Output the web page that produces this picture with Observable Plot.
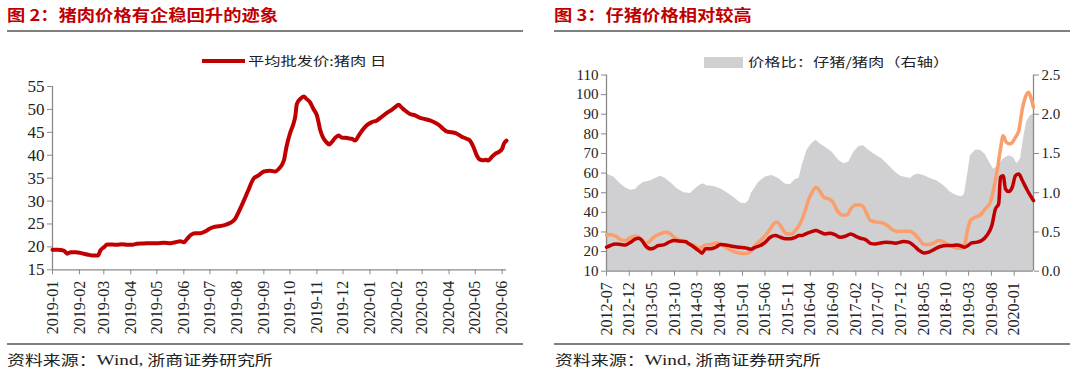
<!DOCTYPE html>
<html><head><meta charset="utf-8">
<script src="https://cdn.jsdelivr.net/npm/d3@7"></script>
<script src="https://cdn.jsdelivr.net/npm/@observablehq/plot@0.6"></script>
<style>
body{margin:0;background:#fff;}
#page{position:relative;width:1080px;height:372px;overflow:hidden;font-family:"Noto Sans CJK SC",sans-serif;}
.title{position:absolute;top:4px;font-weight:bold;font-size:15.5px;color:#c00000;transform:scaleX(1.18);transform-origin:0 0;white-space:nowrap;line-height:20px;}
.rule{position:absolute;height:2px;background:#808080;}
.src{position:absolute;top:350px;font-size:14px;color:#222;transform:scaleX(1.28);transform-origin:0 0;white-space:nowrap;line-height:18px;}
.src .lat{font-family:"Liberation Serif",serif;font-size:15px;}
.chart{position:absolute;top:60px;}
.legtxt{position:absolute;font-size:12.5px;color:#222;transform:scaleX(1.3);transform-origin:0 0;white-space:nowrap;line-height:16px;}
</style></head>
<body><div id="page">
<div class="title" style="left:7px">图 2：猪肉价格有企稳回升的迹象</div>
<div class="title" style="left:554px">图 3：仔猪价格相对较高</div>
<div class="rule" style="left:7px;width:516px;top:30px"></div>
<div class="rule" style="left:554px;width:516px;top:30px"></div>
<div id="c1" class="chart" style="left:0px"></div>
<div id="c2" class="chart" style="left:540px"></div>
<div style="position:absolute;left:202px;top:59px;width:43px;height:4px;background:#c00000"></div>
<div class="legtxt" style="left:248px;top:53px">平均批发价:猪肉 日</div>
<div style="position:absolute;left:704px;top:57px;width:39px;height:11px;background:#d0cfd1"></div>
<div class="legtxt" style="left:748px;top:54px">价格比：仔猪/猪肉（右轴）</div>
<div class="rule" style="left:7px;width:516px;top:343px"></div>
<div class="rule" style="left:554px;width:516px;top:343px"></div>
<div class="src" style="left:7px">资料来源：<span class="lat">Wind,</span> 浙商证券研究所</div>
<div class="src" style="left:555px">资料来源：<span class="lat">Wind,</span> 浙商证券研究所</div>
</div>
<script>
// ---------- Figure 2: pork average wholesale price (daily) ----------
const leftDates = ["2019-01-01","2019-01-07","2019-01-14","2019-01-16","2019-01-18","2019-01-22","2019-01-28","2019-02-02","2019-02-06","2019-02-10","2019-02-16","2019-02-22","2019-02-23","2019-02-25","2019-03-01","2019-03-05","2019-03-11","2019-03-16","2019-03-22","2019-03-28","2019-04-03","2019-04-08","2019-04-16","2019-04-24","2019-05-01","2019-05-09","2019-05-17","2019-05-22","2019-05-28","2019-06-01","2019-06-05","2019-06-09","2019-06-14","2019-06-20","2019-06-26","2019-06-30","2019-07-05","2019-07-11","2019-07-17","2019-07-24","2019-07-30","2019-08-03","2019-08-09","2019-08-14","2019-08-20","2019-08-26","2019-09-01","2019-09-08","2019-09-14","2019-09-18","2019-09-24","2019-09-27","2019-10-01","2019-10-05","2019-10-07","2019-10-09","2019-10-13","2019-10-17","2019-10-20","2019-10-24","2019-10-28","2019-11-01","2019-11-05","2019-11-08","2019-11-12","2019-11-15","2019-11-18","2019-11-22","2019-11-26","2019-11-30","2019-12-03","2019-12-07","2019-12-11","2019-12-15","2019-12-19","2019-12-23","2019-12-28","2020-01-03","2020-01-09","2020-01-14","2020-01-20","2020-01-26","2020-01-30","2020-02-03","2020-02-06","2020-02-10","2020-02-16","2020-02-22","2020-02-27","2020-03-04","2020-03-10","2020-03-16","2020-03-21","2020-03-25","2020-03-29","2020-04-04","2020-04-10","2020-04-15","2020-04-21","2020-04-25","2020-04-29","2020-05-03","2020-05-06","2020-05-10","2020-05-14","2020-05-16","2020-05-20","2020-05-24","2020-05-28","2020-06-01","2020-06-03","2020-06-06"];
const leftPrice = [19.4,19.4,19.2,18.85,18.5,18.85,18.85,18.7,18.5,18.35,18.1,18.1,18.3,19.2,19.9,20.5,20.5,20.45,20.6,20.45,20.45,20.7,20.75,20.8,20.8,20.9,20.8,21.0,21.25,21.0,21.8,22.6,23.0,23.0,23.4,23.9,24.3,24.5,24.7,25.2,26.1,27.6,30.1,32.3,34.85,35.6,36.45,36.6,36.45,37.0,38.85,41.8,44.7,46.85,48.3,51.2,52.3,52.8,52.3,51.6,50.1,48.7,45.4,43.9,42.85,42.35,42.85,43.8,44.3,43.8,43.8,43.7,43.6,43.2,44.3,45.4,46.5,47.2,47.6,48.3,49.2,49.9,50.5,51.0,50.5,49.8,49.0,48.7,48.2,47.9,47.6,47.1,46.5,45.8,45.2,45.0,44.7,44.1,43.6,43.2,41.8,39.9,39.1,38.9,39.0,38.85,39.6,40.3,40.7,41.4,42.5,43.2];
const leftYTicks = [15,20,25,30,35,40,45,50,55];
const leftXTicks = ["2019-01","2019-02","2019-03","2019-04","2019-05","2019-06","2019-07","2019-08","2019-09","2019-10","2019-11","2019-12","2020-01","2020-02","2020-03","2020-04","2020-05","2020-06"];

// ---------- Figure 3: piglet vs hog prices, ratio on right axis ----------
const ratioDates = ["2012-07-01","2012-08-19","2012-10-04","2012-11-07","2012-12-10","2013-01-13","2013-02-04","2013-03-07","2013-04-22","2013-05-25","2013-06-28","2013-08-01","2013-09-04","2013-10-19","2013-12-04","2014-01-16","2014-02-19","2014-03-25","2014-04-16","2014-05-07","2014-06-22","2014-08-07","2014-09-19","2014-11-04","2014-12-19","2015-01-22","2015-02-13","2015-03-04","2015-04-19","2015-06-04","2015-07-19","2015-09-01","2015-10-16","2015-11-19","2015-12-22","2016-01-16","2016-02-07","2016-03-10","2016-04-13","2016-05-10","2016-06-07","2016-07-10","2016-08-25","2016-10-10","2016-11-13","2016-12-16","2017-01-19","2017-02-22","2017-03-25","2017-04-28","2017-06-13","2017-07-28","2017-09-13","2017-10-25","2017-11-28","2018-01-13","2018-02-04","2018-02-25","2018-03-28","2018-05-04","2018-06-16","2018-08-01","2018-09-16","2018-10-28","2018-12-13","2019-01-16","2019-02-01","2019-02-25","2019-03-13","2019-04-16","2019-05-19","2019-06-19","2019-07-25","2019-08-16","2019-09-19","2019-10-22","2019-11-25","2019-12-28","2020-01-19","2020-02-13","2020-03-04","2020-03-25","2020-04-19","2020-05-10"];
const ratioValues = [1.24,1.20,1.11,1.06,1.03,1.04,1.09,1.13,1.15,1.18,1.21,1.18,1.13,1.05,1.00,0.99,1.05,1.10,1.11,1.09,1.08,1.05,1.00,0.94,0.87,0.86,0.90,1.00,1.13,1.20,1.22,1.18,1.11,1.10,1.17,1.18,1.35,1.54,1.63,1.67,1.62,1.58,1.52,1.41,1.37,1.39,1.52,1.59,1.60,1.54,1.48,1.43,1.34,1.26,1.21,1.19,1.18,1.22,1.24,1.22,1.18,1.15,1.09,1.01,0.96,0.95,0.98,1.26,1.47,1.54,1.54,1.49,1.37,1.30,1.35,1.43,1.47,1.45,1.37,1.43,1.69,1.90,1.98,2.00];

const pigletDates = ["2012-07-01","2012-07-27","2012-09-01","2012-10-04","2012-11-07","2012-12-10","2013-01-13","2013-02-16","2013-03-19","2013-04-10","2013-05-13","2013-06-28","2013-08-01","2013-08-25","2013-09-28","2013-11-13","2013-12-25","2014-02-10","2014-03-13","2014-04-04","2014-04-28","2014-06-01","2014-07-04","2014-08-07","2014-09-10","2014-10-22","2014-12-07","2015-01-22","2015-02-25","2015-03-28","2015-05-01","2015-06-04","2015-07-07","2015-07-28","2015-08-22","2015-09-13","2015-10-04","2015-10-28","2015-12-01","2015-12-22","2016-01-16","2016-02-07","2016-03-01","2016-03-22","2016-04-13","2016-05-10","2016-06-01","2016-07-01","2016-08-04","2016-09-01","2016-09-28","2016-11-01","2016-12-04","2016-12-28","2017-02-01","2017-03-04","2017-03-25","2017-04-16","2017-05-10","2017-06-25","2017-07-28","2017-09-01","2017-10-04","2017-10-25","2017-11-28","2018-01-01","2018-02-04","2018-03-07","2018-04-10","2018-05-04","2018-06-07","2018-07-10","2018-08-10","2018-09-16","2018-10-19","2018-11-22","2018-12-25","2019-01-16","2019-02-01","2019-02-19","2019-03-13","2019-04-16","2019-05-19","2019-06-19","2019-07-25","2019-08-16","2019-09-07","2019-10-01","2019-10-19","2019-11-10","2019-12-07","2020-01-10","2020-02-01","2020-02-25","2020-03-16","2020-04-07","2020-04-22","2020-05-10"];
const pigletPrice = [28.5,28.7,27.8,26.1,25.6,27.3,27.8,26.5,24.4,24.8,27.3,29.0,29.9,29.5,27.3,25.6,24.4,23.1,21.7,22.2,23.4,23.6,24.4,23.9,22.2,20.5,19.3,19.0,20.0,23.1,25.6,28.2,31.6,34.1,35.0,33.3,30.7,29.0,29.0,30.7,33.3,36.7,41.7,46.8,50.2,52.8,51.1,47.7,46.8,45.1,40.9,38.7,38.7,41.7,43.8,43.8,42.6,39.2,35.8,35.0,34.6,33.3,31.2,30.5,30.2,30.4,30.2,28.5,25.6,23.6,23.6,24.3,25.6,24.8,23.1,22.2,21.7,21.7,23.1,29.9,35.8,37.5,38.7,41.7,45.1,51.9,60.4,72.3,79.1,75.7,74.9,78.3,81.6,92.7,98.6,101.2,98.6,93.5];

const hogDates = ["2012-07-01","2012-07-27","2012-09-01","2012-10-04","2012-11-07","2012-12-10","2013-01-13","2013-02-04","2013-02-25","2013-03-19","2013-04-22","2013-05-13","2013-06-16","2013-07-19","2013-08-25","2013-09-28","2013-11-13","2013-12-13","2014-01-07","2014-02-10","2014-03-13","2014-04-04","2014-04-28","2014-06-01","2014-07-04","2014-08-07","2014-09-10","2014-10-22","2014-12-07","2015-01-22","2015-02-25","2015-03-28","2015-05-01","2015-06-04","2015-07-07","2015-08-10","2015-09-13","2015-10-16","2015-11-19","2015-12-22","2016-01-16","2016-02-07","2016-03-01","2016-04-01","2016-05-10","2016-06-07","2016-07-10","2016-08-13","2016-09-16","2016-10-19","2016-11-22","2016-12-28","2017-02-01","2017-03-04","2017-04-07","2017-05-10","2017-06-13","2017-07-16","2017-08-19","2017-09-22","2017-10-25","2017-12-19","2018-01-22","2018-02-25","2018-03-28","2018-05-04","2018-06-07","2018-07-10","2018-08-22","2018-10-07","2018-11-10","2018-12-13","2019-01-16","2019-02-01","2019-02-25","2019-03-22","2019-04-25","2019-05-28","2019-07-01","2019-08-04","2019-08-28","2019-09-19","2019-10-01","2019-10-19","2019-11-04","2019-11-25","2019-12-19","2020-01-10","2020-02-01","2020-02-25","2020-03-25","2020-04-19","2020-05-10"];
const hogPrice = [22.2,23.1,23.8,23.6,23.4,24.8,26.5,26.8,25.6,23.1,21.4,21.7,23.1,23.4,24.8,25.6,25.3,25.1,23.9,22.2,20.5,19.2,21.4,21.4,22.2,23.6,23.4,22.7,22.2,21.9,21.2,22.2,23.1,24.8,27.3,28.2,27.3,26.5,26.5,27.3,28.2,28.2,29.0,29.9,30.7,29.9,29.0,29.4,28.5,27.3,27.8,29.0,27.8,26.8,26.1,24.2,23.9,24.4,24.8,24.6,24.3,25.1,24.8,23.1,20.9,19.3,19.7,21.0,22.6,23.1,23.1,23.4,22.7,22.2,23.1,24.4,24.8,25.6,28.2,33.3,41.7,44.3,57.9,58.7,51.9,50.6,52.8,58.7,59.6,56.2,51.9,48.5,46.0];

const rightYTicks = [10,20,30,40,50,60,70,80,90,100,110];
const ratioTicks = [0.0,0.5,1.0,1.5,2.0,2.5];
const rightXTicks = ["2012-07","2012-12","2013-05","2013-10","2014-03","2014-08","2015-01","2015-06","2015-11","2016-04","2016-09","2017-02","2017-07","2017-12","2018-05","2018-10","2019-03","2019-08","2020-01"];

// ---------- build ----------
const pDay = d3.utcParse("%Y-%m-%d");
const pMon = d3.utcParse("%Y-%m");
const fMon = d3.utcFormat("%Y-%m");
const RED = "#c00000", ORANGE = "#fa9e6c", GREY = "#d0cfd1", AXIS = "#8a8a8a";

const leftData = leftDates.map((d, i) => ({date: pDay(d), value: leftPrice[i]}));
const x1 = [pDay("2019-01-01"), pDay("2020-06-06")];

const chart1 = Plot.plot({
  width: 540, height: 280,
  marginTop: 26, marginBottom: 70.7, marginLeft: 52, marginRight: 34,
  style: {fontFamily: "'Liberation Serif', serif", fontSize: "16px", color: "#222", background: "transparent", overflow: "visible"},
  x: {type: "utc", domain: x1},
  y: {domain: [15, 55]},
  marks: [
    Plot.ruleX([x1[0]], {stroke: AXIS, strokeWidth: 1.3}),
    Plot.ruleY([15], {stroke: AXIS, strokeWidth: 1.3}),
    Plot.axisY({ticks: leftYTicks, label: null, tickSize: 5, tickPadding: 3, stroke: AXIS, fontSize: 17}),
    Plot.axisX({ticks: leftXTicks.map(pMon), label: null, tickFormat: fMon, tickRotate: -90, tickSize: 5, tickPadding: 6, stroke: AXIS, fontSize: 16}),
    Plot.lineY(leftData, {x: "date", y: "value", stroke: RED, strokeWidth: 4, curve: "monotone-x"})
  ]
});
document.getElementById("c1").appendChild(chart1);

const ratioData = ratioDates.map((d, i) => ({date: pDay(d), r: ratioValues[i]}));
const pigData = pigletDates.map((d, i) => ({date: pDay(d), value: pigletPrice[i]}));
const hogData = hogDates.map((d, i) => ({date: pDay(d), value: hogPrice[i]}));
const x2 = [pDay("2012-07-01"), pDay("2020-05-10")];
const toLeft = r => 10 + r * 40;   // right axis 0–2.5 mapped onto left axis 10–110

const chart2 = Plot.plot({
  width: 540, height: 280,
  marginTop: 14.5, marginBottom: 69.3, marginLeft: 66, marginRight: 47,
  style: {fontFamily: "'Liberation Serif', serif", fontSize: "16px", color: "#222", background: "transparent", overflow: "visible"},
  x: {type: "utc", domain: x2},
  y: {domain: [10, 110]},
  marks: [
    Plot.areaY(ratioData, {x: "date", y1: () => 10, y2: d => toLeft(d.r), fill: GREY}),
    Plot.ruleX([x2[0]], {stroke: AXIS, strokeWidth: 1.3}),
    Plot.ruleX([x2[1]], {stroke: AXIS, strokeWidth: 1.3}),
    Plot.ruleY([10], {stroke: AXIS, strokeWidth: 1.3}),
    Plot.axisY({ticks: rightYTicks, label: null, tickSize: 5, tickPadding: 3, stroke: AXIS, fontSize: 15}),
    Plot.axisY({anchor: "right", label: null, ticks: ratioTicks.map(toLeft), tickFormat: d => ((d - 10) / 40).toFixed(1), tickSize: 5, tickPadding: 3, stroke: AXIS, fontSize: 15}),
    Plot.axisX({ticks: rightXTicks.map(pMon), label: null, tickFormat: fMon, tickRotate: -90, tickSize: 5, tickPadding: 6, stroke: AXIS, fontSize: 16}),
    Plot.lineY(pigData, {x: "date", y: "value", stroke: ORANGE, strokeWidth: 3.5, curve: "monotone-x"}),
    Plot.lineY(hogData, {x: "date", y: "value", stroke: RED, strokeWidth: 3.5, curve: "monotone-x"})
  ]
});
document.getElementById("c2").appendChild(chart2);
</script>
</body></html>
